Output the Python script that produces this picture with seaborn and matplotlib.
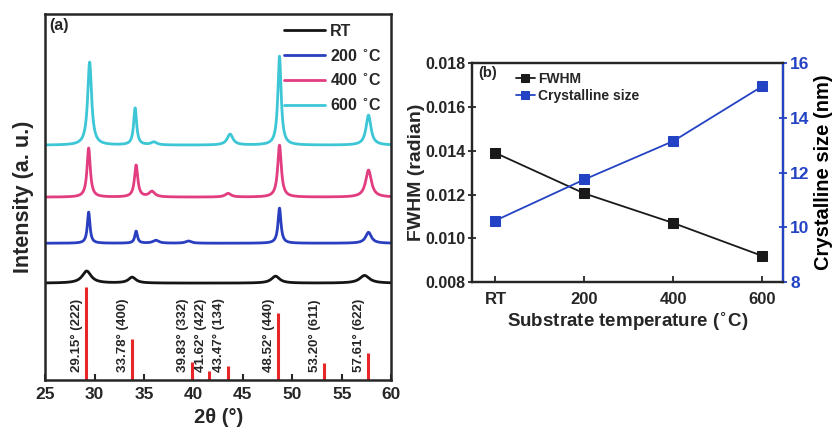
import numpy as np
import pandas as pd
import matplotlib
matplotlib.use("Agg")
import matplotlib.pyplot as plt
import seaborn as sns

sns.set_style("ticks")
plt.rcParams['font.family'] = ['Liberation Sans', 'DejaVu Sans']
plt.rcParams['font.weight'] = 'bold'
plt.rcParams['axes.labelweight'] = 'bold'
plt.rcParams['mathtext.default'] = 'bf'

# ---- panel (a): XRD peaks (position, height, half width) ----
series_names = ['RT', '200 $^{\\circ}$C', '400 $^{\\circ}$C', '600 $^{\\circ}$C']
series_colors = ['#151515', '#2a3fc0', '#e23d80', '#3cc6d6']
baselines = [26.5, 37.4, 50.0, 64.2]
peaks_rt = [(29.2, 3.3, 0.55), (33.8, 1.6, 0.45), (48.3, 1.9, 0.5), (57.3, 2.1, 0.6)]
peaks_200 = [(29.4, 8.5, 0.16), (34.2, 3.3, 0.16), (36.2, 0.8, 0.35), (39.5, 0.6, 0.35),
             (48.7, 9.6, 0.18), (57.7, 3.0, 0.35)]
peaks_400 = [(29.4, 13.4, 0.2), (34.2, 8.7, 0.2), (35.8, 1.5, 0.35), (43.5, 1.0, 0.35),
             (48.7, 14.2, 0.22), (57.7, 7.4, 0.35)]
peaks_600 = [(29.5, 22.7, 0.24), (34.1, 10.1, 0.18), (36.0, 0.8, 0.35), (43.7, 3.0, 0.35),
             (48.7, 24.3, 0.2), (57.7, 8.2, 0.3)]
all_peaks = [peaks_rt, peaks_200, peaks_400, peaks_600]

ref_pos = [29.15, 33.78, 39.83, 41.62, 43.47, 48.52, 53.20, 57.61]
ref_hkl = ['(222)', '(400)', '(332)', '(422)', '(134)', '(440)', '(611)', '(622)']
ref_height = [25.4, 11.2, 4.9, 2.5, 3.8, 18.3, 4.6, 7.4]

# ---- panel (b) ----
temps = ['RT', '200', '400', '600']
fwhm = [0.0139, 0.01205, 0.0107, 0.0092]
cryst_size = [10.25, 11.75, 13.15, 15.15]

fig = plt.figure(figsize=(8.36, 4.30), dpi=100)
ax1 = fig.add_axes([0.054, 0.116, 0.414, 0.851])

two_theta = np.linspace(25, 60, 3500)
for name, color, base, pk in zip(series_names, series_colors, baselines, all_peaks):
    y = np.full_like(two_theta, base)
    for pos, h, w in pk:
        y += h * w**2 / ((two_theta - pos)**2 + w**2)
    sns.lineplot(x=two_theta, y=y, ax=ax1, color=color, lw=2.0, label=name)

for pos, hkl, h in zip(ref_pos, ref_hkl, ref_height):
    ax1.vlines(pos, 0, h, color='#e8262a', lw=2.2)
    ax1.text(pos - 0.3, 2.2, f'{pos:.2f}° {hkl}', rotation=90,
             ha='right', va='bottom', fontsize=9.5, fontweight='bold')

ax1.set_xlim(25, 60)
ax1.set_ylim(0, 100)
ax1.set_yticks([])
ax1.set_xticks(range(25, 61, 5))
ax1.tick_params(axis='x', direction='in', length=4, width=1.5, labelsize=12.5, pad=5)
ax1.set_xlabel('2θ (°)', fontsize=14.5, labelpad=4)
ax1.set_ylabel('Intensity (a. u.)', fontsize=15.5, labelpad=8)
for s in ax1.spines.values():
    s.set_linewidth(1.8)
ax1.text(0.012, 0.99, '(a)', transform=ax1.transAxes, fontsize=11.5, fontweight='bold',
         ha='left', va='top')
leg = ax1.legend(loc='upper right', frameon=False, fontsize=11.5, handlelength=2.6,
                 handletextpad=0.3, labelspacing=0.55, borderaxespad=0.2)
for line in leg.get_lines():
    line.set_linewidth(2)

# ---- panel (b) ----
ax2 = fig.add_axes([0.565, 0.344, 0.372, 0.509])
xpos = np.arange(len(temps))
sns.lineplot(x=xpos, y=fwhm, ax=ax2, color='#1a1a1a', marker='s', markersize=7,
             markeredgecolor='#1a1a1a', lw=1.3, label='FWHM', legend=False)
ax2.set_xlim(-0.26, 3.24)
ax2.set_ylim(0.008, 0.018)
ax2.set_yticks([0.008, 0.010, 0.012, 0.014, 0.016, 0.018])
ax2.set_yticklabels(['0.008', '0.010', '0.012', '0.014', '0.016', '0.018'])
ax2.set_xticks(xpos)
ax2.set_xticklabels(temps)
ax2.tick_params(axis='x', direction='in', length=4, width=1.3, labelsize=12, pad=7)
ax2.tick_params(axis='y', direction='inout', length=6, width=1.3, labelsize=11.5, pad=2)
ax2.set_xlabel('Substrate temperature ($^{\\circ}$C)', fontsize=13.5, labelpad=2)
ax2.set_ylabel('FWHM (radian)', fontsize=14, labelpad=0)

ax3 = ax2.twinx()
sns.lineplot(x=xpos, y=cryst_size, ax=ax3, color='#2443c4', marker='s', markersize=7,
             markeredgecolor='#2443c4', lw=1.3, label='Crystalline size', legend=False)
ax3.set_ylim(8, 16)
ax3.set_yticks([8, 10, 12, 14, 16])
ax3.tick_params(axis='y', direction='inout', length=6, width=1.3, labelsize=12.5,
                colors='#2443c4', pad=2)
ax3.set_ylabel('Crystalline size (nm)', fontsize=14.5, labelpad=3, color='black')
for s in ax2.spines.values():
    s.set_linewidth(1.6)
for s in ax3.spines.values():
    s.set_linewidth(1.6)
ax3.spines['right'].set_color('#2443c4')

ax2.text(0.02, 0.985, '(b)', transform=ax2.transAxes, fontsize=10.5, fontweight='bold',
         ha='left', va='top')
h1, l1 = ax2.get_legend_handles_labels()
h2, l2 = ax3.get_legend_handles_labels()
leg2 = ax3.legend(h1 + h2, l1 + l2, loc='upper left', bbox_to_anchor=(0.11, 1.0),
                  frameon=False, fontsize=10, handlelength=1.4, handletextpad=0.2,
                  labelspacing=0.2, borderaxespad=0.25, markerscale=0.75)

fig.savefig('out.png', dpi=100)
